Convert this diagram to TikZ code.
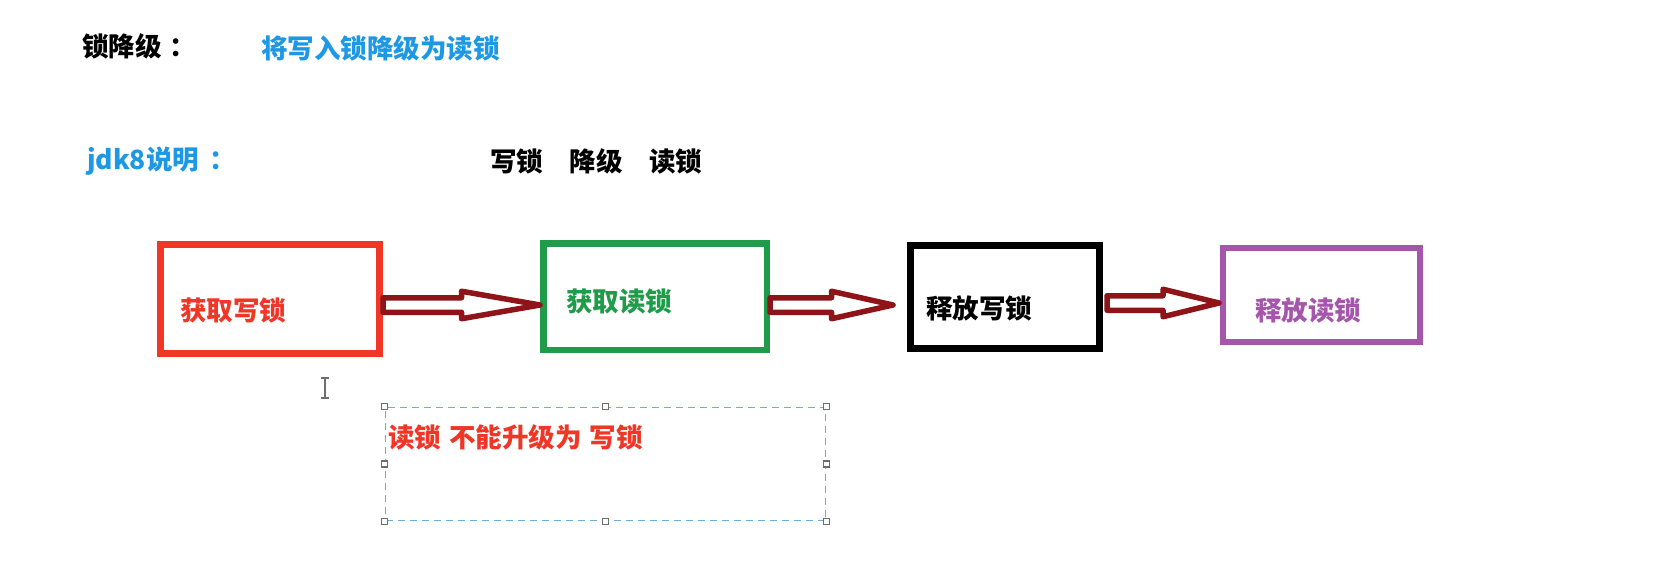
\documentclass[tikz,border=0pt]{standalone}
\usepackage{fontspec}
\newfontfamily\cjk{Noto Sans CJK SC}
\usetikzlibrary{calc}
\definecolor{titleblue}{RGB}{28,152,228}
\definecolor{boxred}{RGB}{240,54,38}
\definecolor{boxgreen}{RGB}{30,156,74}
\definecolor{boxpurple}{RGB}{166,86,170}
\definecolor{arrowred}{RGB}{142,20,24}
\definecolor{dashblue}{RGB}{106,175,220}
\definecolor{handlegray}{RGB}{110,110,110}
\begin{document}
\begin{tikzpicture}[x=1pt,y=-1pt,
  txt/.style={font=\cjk\bfseries\fontsize{26.5}{30}\selectfont, inner sep=0pt, anchor=west},
  stepbox/.style={rectangle, fill=white, inner sep=0pt},
  handle/.style={draw=handlegray, fill=white, line width=1.1pt, minimum size=6pt, inner sep=0pt, rectangle},
  blockarrow/.style={draw=arrowred, fill=white, line width=5.5pt, line join=round,
    to path={let \p1=(\tikztostart), \p2=(\tikztotarget), \n1={\x2-\x1} in
      (\x1,\y1+7.25pt) -- (\x1+0.5*\n1,\y1+7.25pt) -- (\x1+0.5*\n1,\y1+13.75pt)
      -- (\x2,\y2) -- (\x1+0.5*\n1,\y1-13.75pt) -- (\x1+0.5*\n1,\y1-7.25pt)
      -- (\x1,\y1-7.25pt) -- cycle}}
]
\fill[white] (0,0) rectangle (1670,588);
\useasboundingbox (0,0) rectangle (1670,588);

% headings
\node[txt] (h1) at (82,46) {锁降级\hspace{8pt}：};
\node[txt, text=titleblue] (h2) at (261,48) {将写入锁降级为读锁};
\node[txt, text=titleblue] (h3) at (87,161) {jdk8说明\hspace{10pt}：};
\node[txt] (h4) at (490,161) {写锁\hspace{1em}降级\hspace{1em}读锁};

% boxes
\node[stepbox, draw=boxred, line width=7pt, minimum width=219pt, minimum height=109pt] (rbox) at (270,299) {};
\node[stepbox, draw=boxgreen, line width=6.5pt, minimum width=223.5pt, minimum height=106.5pt] (gbox) at (655,296.5) {};
\node[stepbox, draw=black, line width=7pt, minimum width=189pt, minimum height=103pt] (kbox) at (1005,297) {};
\node[stepbox, draw=boxpurple, line width=6pt, minimum width=197pt, minimum height=94pt] (pbox) at (1321.5,295) {};

\node[txt, text=boxred] (rtxt) at (180,310) {获取写锁};
\node[txt, text=boxgreen] (gtxt) at (566,302) {获取读锁};
\node[txt] (ktxt) at (926,308) {释放写锁};
\node[txt, text=boxpurple] (ptxt) at (1255,310) {释放读锁};

% block arrows
\draw[blockarrow] ([yshift=-6pt]rbox.east) to ([yshift=-8.5pt]gbox.west);
\draw[blockarrow] ([yshift=-8.5pt]gbox.east) to ([xshift=-14pt,yshift=-8pt]kbox.west);
\draw[blockarrow] ([xshift=4pt,yshift=-6pt]kbox.east) to ([xshift=-1pt,yshift=-8pt]pbox.west);

% text cursor
\draw[handlegray, line width=1.4pt] (325,378) -- (325,398);
\draw[handlegray, line width=1.2pt] (321,378) -- (329,378);
\draw[handlegray, line width=1.2pt] (321,398) -- (329,398);

% selected text box
\node[rectangle, draw=dashblue, line width=1.4pt, dash pattern=on 7pt off 5pt, minimum width=440pt, minimum height=113pt, inner sep=0pt] (note) at (605.5,464) {};
\node[txt, text=boxred] (ntxt) at (388,437) {读锁\hspace{8pt}不能升级为\hspace{8pt}写锁};
\foreach \a in {north west,north,north east,west,east,south west,south,south east}
  \node[handle] at (note.\a) {};
\end{tikzpicture}
\end{document}
